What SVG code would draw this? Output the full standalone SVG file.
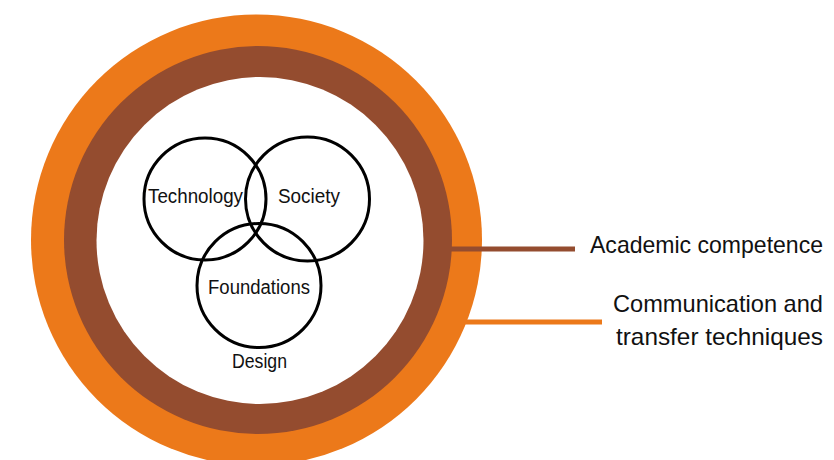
<svg xmlns="http://www.w3.org/2000/svg" width="834" height="460" viewBox="0 0 834 460">
<style>
.venn{fill:none;stroke:#000;stroke-width:3}
.lbl{font-family:"Liberation Sans",Arial,sans-serif;fill:#111}
.sm{font-size:19.5px;text-anchor:middle}
.lg{font-size:24px;text-anchor:end}
</style>
<rect width="834" height="460" fill="#fff"/>
<g id="ring-communication">
<circle cx="256.5" cy="240" r="225.5" fill="#EC791A"/>
</g>
<g id="ring-academic">
<circle cx="258" cy="240" r="194" fill="#944C2F"/>
</g>
<g id="core">
<circle cx="260" cy="240.5" r="163.5" fill="#fff"/>
</g>
<g id="connectors">
<line x1="450" y1="249" x2="575" y2="249" stroke="#944C2F" stroke-width="5"/>
<line x1="464" y1="322" x2="602" y2="322" stroke="#EC791A" stroke-width="5"/>
</g>
<g id="technology">
<circle class="venn" cx="205" cy="199" r="61"/>
<text class="lbl sm" x="195.5" y="203" textLength="95" lengthAdjust="spacingAndGlyphs">Technology</text>
</g>
<g id="society">
<circle class="venn" cx="307.5" cy="199" r="62"/>
<text class="lbl sm" x="309" y="203" textLength="62" lengthAdjust="spacingAndGlyphs">Society</text>
</g>
<g id="foundations">
<circle class="venn" cx="259" cy="285.5" r="62"/>
<text class="lbl sm" x="259" y="294" textLength="102" lengthAdjust="spacingAndGlyphs">Foundations</text>
</g>
<g id="design">
<text class="lbl sm" x="259.5" y="368" textLength="55" lengthAdjust="spacingAndGlyphs">Design</text>
</g>
<g id="academic-label">
<text class="lbl lg" x="823" y="253" textLength="233" lengthAdjust="spacingAndGlyphs">Academic competence</text>
</g>
<g id="communication-label">
<text class="lbl lg" x="823" y="312" textLength="210" lengthAdjust="spacingAndGlyphs">Communication and</text>
<text class="lbl lg" x="823" y="345" textLength="207" lengthAdjust="spacingAndGlyphs">transfer techniques</text>
</g>
</svg>
